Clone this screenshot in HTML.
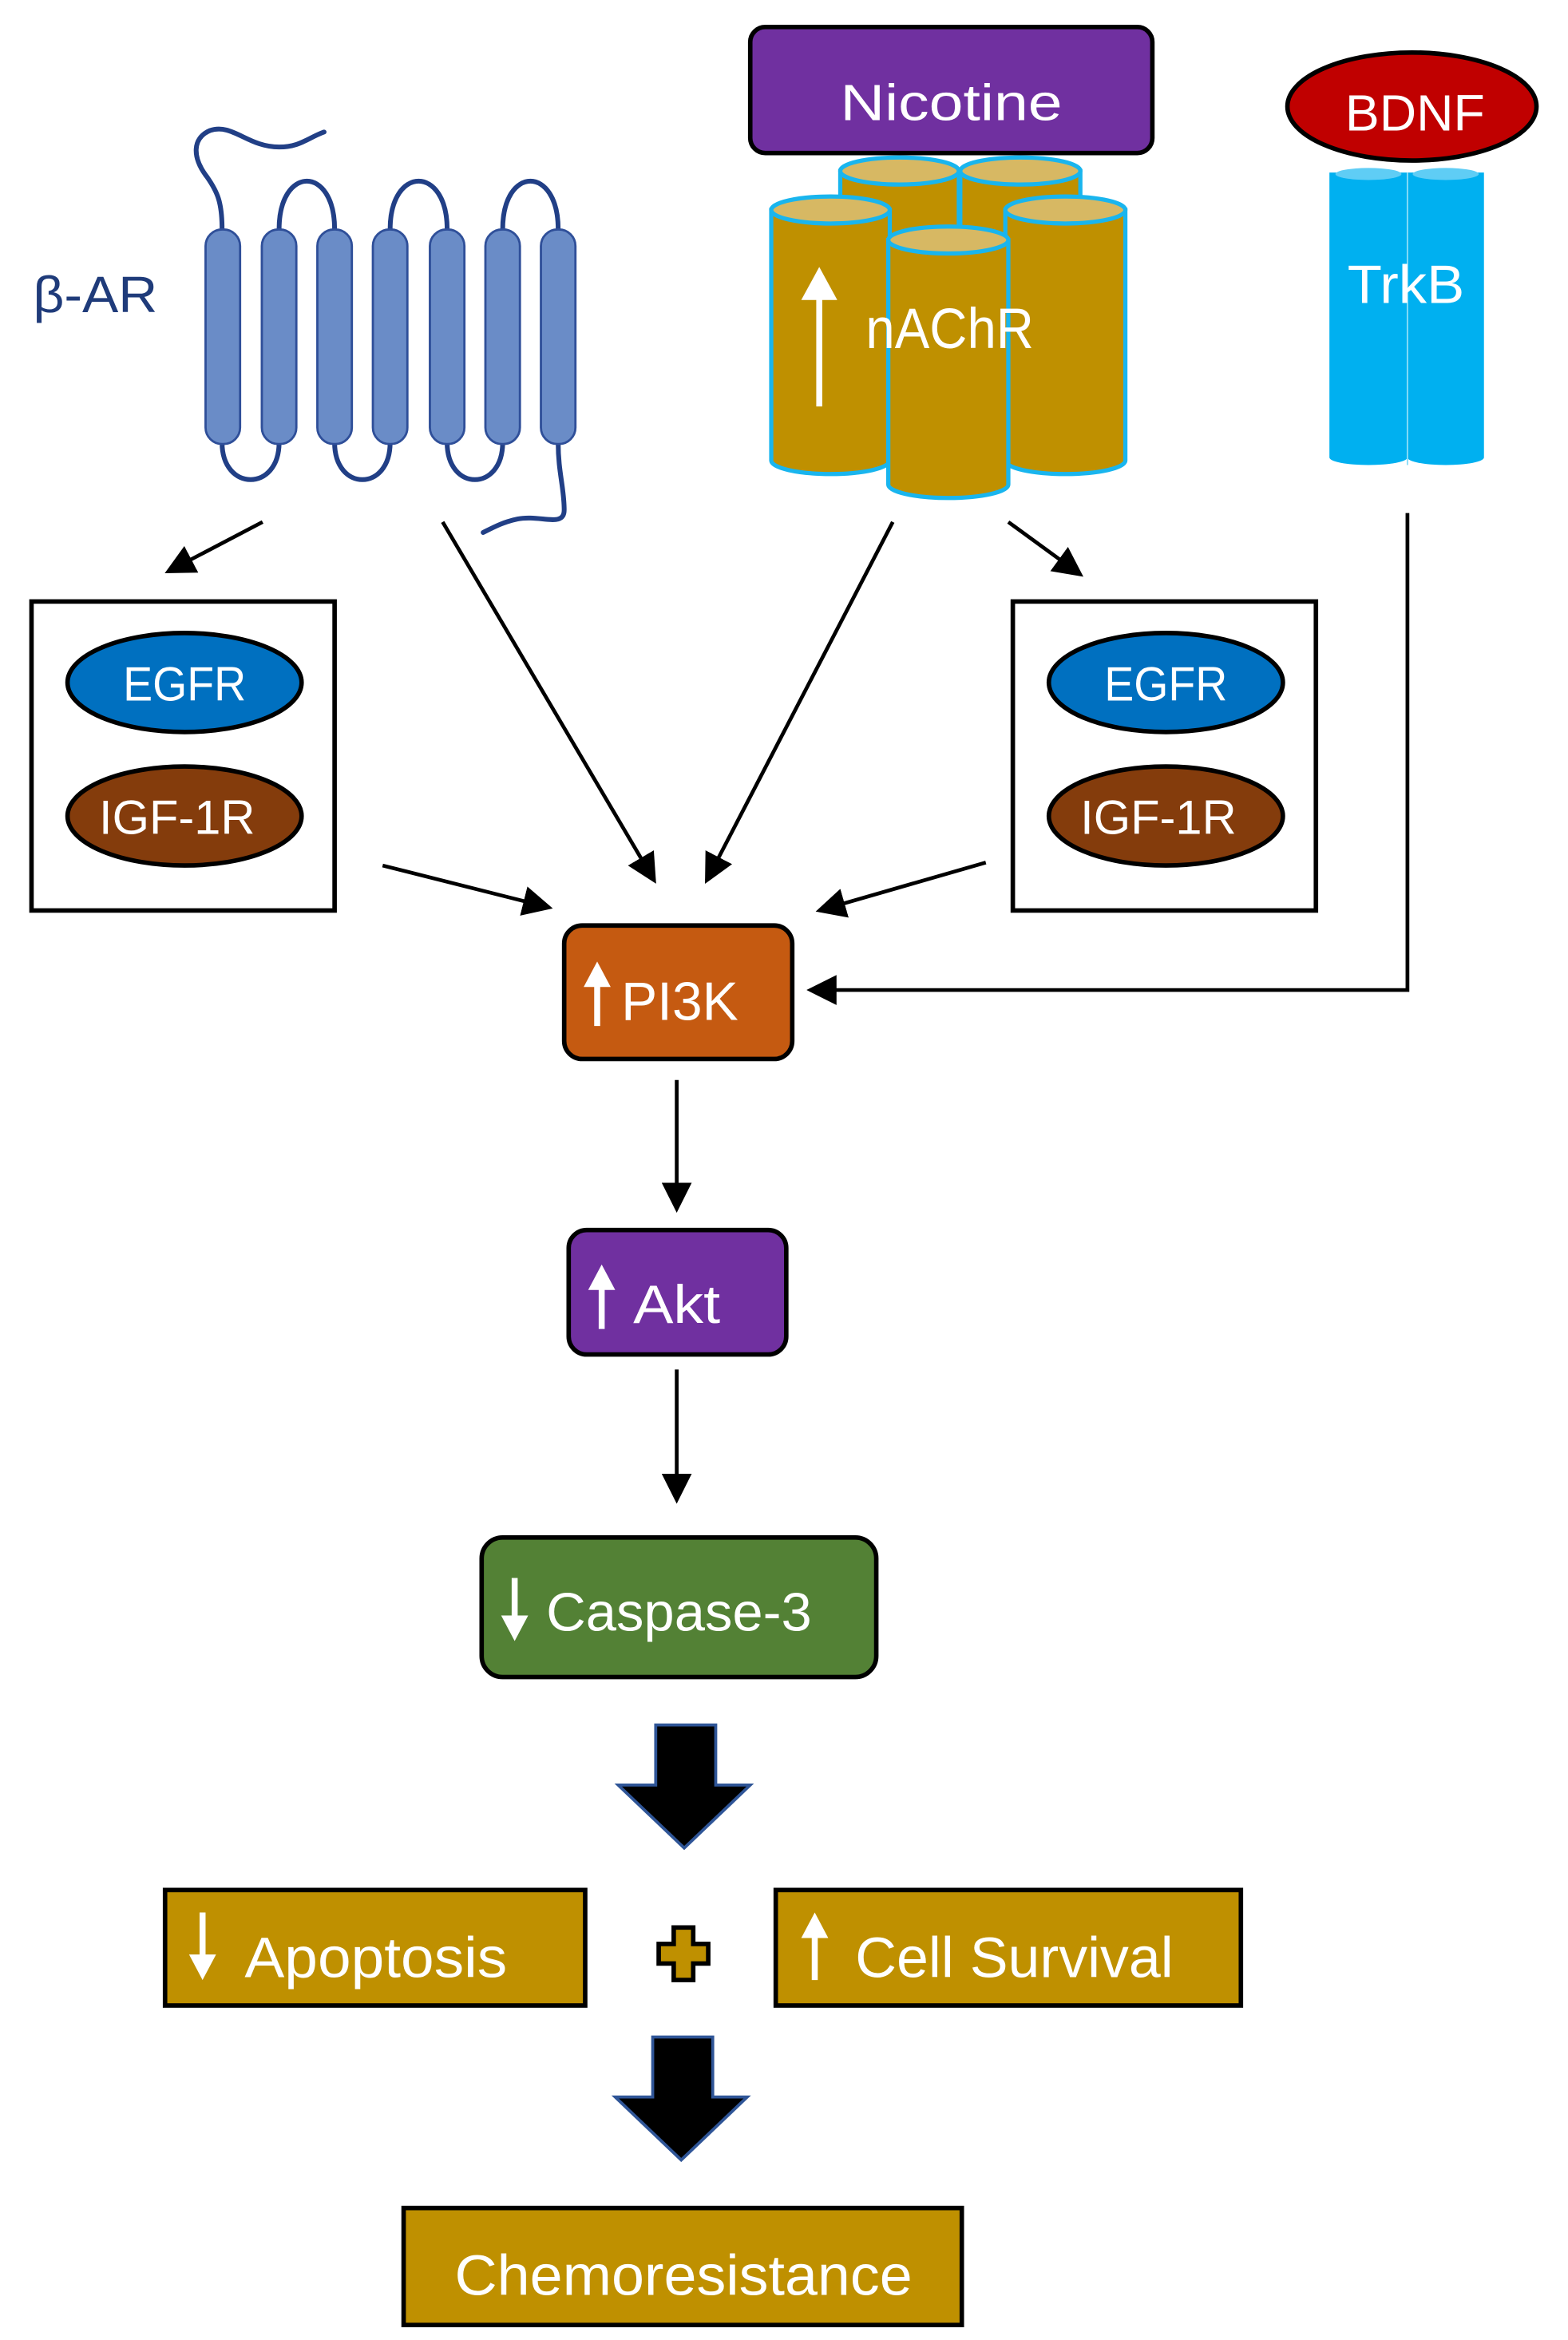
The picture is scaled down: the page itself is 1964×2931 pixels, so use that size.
<!DOCTYPE html>
<html><head><meta charset="utf-8"><style>
html,body{margin:0;padding:0;background:#fff;}
svg{display:block;}
text{font-family:"Liberation Sans",sans-serif;fill:#fff;}
</style></head><body>
<svg width="1964" height="2931" viewBox="0 0 1045 1560" preserveAspectRatio="none" xmlns="http://www.w3.org/2000/svg">
<defs>
<marker id="ah" markerWidth="8" markerHeight="8" refX="7" refY="4" orient="auto" markerUnits="strokeWidth">
<path d="M0,0 L8,4 L0,8 z" fill="#000"/>
</marker>
</defs>
<rect width="1045" height="1560" fill="#fff"/>

<!-- beta-AR -->
<text x="22" y="208" font-size="34" textLength="83" lengthAdjust="spacingAndGlyphs" style="fill:#1F3B7A">β-AR</text>
<g fill="none" stroke="#213F86" stroke-width="3.2" stroke-linecap="round">
<path d="M148,153 C148,135 145,128 138,118 C128,105 128,92 140,87 C155,82 165,98 186,98 C200,98 205,92 216,88"/>
<path d="M186,153 C186,110 223,110 223,153"/>
<path d="M260,153 C260,110 298,110 298,153"/>
<path d="M335,153 C335,110 372,110 372,153"/>
<path d="M148,295 C148,328 186,328 186,295"/>
<path d="M223,295 C223,328 260,328 260,295"/>
<path d="M298,295 C298,328 335,328 335,295"/>
<path d="M372,295 C372,315 376,325 376,340 C376,352 360,343 345,346 C335,348 328,352 322,355"/>
</g>
<g fill="#6A8CC7" stroke="#2F4F99" stroke-width="1.5">
<rect x="137" y="153" width="23" height="143" rx="11"/>
<rect x="174.5" y="153" width="23" height="143" rx="11"/>
<rect x="211.5" y="153" width="23" height="143" rx="11"/>
<rect x="248.5" y="153" width="23" height="143" rx="11"/>
<rect x="286.5" y="153" width="23" height="143" rx="11"/>
<rect x="323.5" y="153" width="23" height="143" rx="11"/>
<rect x="360.5" y="153" width="23" height="143" rx="11"/>
</g>

<!-- Nicotine -->
<rect x="500" y="18" width="268" height="84" rx="10" fill="#7030A0" stroke="#000" stroke-width="3"/>
<text x="634" y="80" font-size="34" text-anchor="middle" textLength="148" lengthAdjust="spacingAndGlyphs">Nicotine</text>

<!-- nAChR cylinders -->
<g stroke="#19B5EE" stroke-width="2.8">
<path d="M560,114 V280 A40,9 0 0 0 639,280 V114 Z" fill="#BF9000"/>
<ellipse cx="599.5" cy="114" rx="39.5" ry="9" fill="#D7B863"/>
<path d="M640,114 V280 A40,9 0 0 0 720,280 V114 Z" fill="#BF9000"/>
<ellipse cx="680" cy="114" rx="40" ry="9" fill="#D7B863"/>
<path d="M514,140 V307 A39.5,9 0 0 0 593,307 V140 Z" fill="#BF9000"/>
<ellipse cx="553.5" cy="140" rx="39.5" ry="9" fill="#D7B863"/>
<path d="M670,140 V307 A40,9 0 0 0 750,307 V140 Z" fill="#BF9000"/>
<ellipse cx="710" cy="140" rx="40" ry="9" fill="#D7B863"/>
<path d="M592,160 V323 A40,9 0 0 0 672,323 V160 Z" fill="#BF9000"/>
<ellipse cx="632" cy="160" rx="40" ry="9" fill="#D7B863"/>
</g>
<line x1="546" y1="271" x2="546" y2="196" stroke="#fff" stroke-width="4"/>
<path d="M534,200 L546,178 L558,200 Z" fill="#fff"/>
<text x="577" y="232" font-size="38" textLength="112" lengthAdjust="spacingAndGlyphs">nAChR</text>

<!-- BDNF / TrkB -->
<g fill="#00B0F0">
<path d="M886,115 V305 A26,5 0 0 0 938,305 V115 Z"/>
<path d="M938,115 V305 A25.5,5 0 0 0 989,305 V115 Z"/>
</g>
<ellipse cx="912" cy="116" rx="22" ry="4" fill="#5FCDF5"/>
<ellipse cx="963.5" cy="116" rx="22" ry="4" fill="#5FCDF5"/>
<line x1="938" y1="115" x2="938" y2="310" stroke="#8ADCF8" stroke-width="1"/>
<ellipse cx="941" cy="71" rx="83" ry="36" fill="#C00000" stroke="#000" stroke-width="3"/>
<text x="943" y="87" font-size="34" text-anchor="middle" textLength="93" lengthAdjust="spacingAndGlyphs">BDNF</text>
<text x="937" y="202" font-size="36" text-anchor="middle" textLength="78" lengthAdjust="spacingAndGlyphs">TrkB</text>

<!-- connectors -->
<g stroke="#000" stroke-width="2.5" fill="none" marker-end="url(#ah)">
<line x1="175" y1="348" x2="112" y2="381"/>
<line x1="295" y1="348" x2="436" y2="587"/>
<line x1="595" y1="348" x2="471" y2="587"/>
<line x1="672" y1="348" x2="720" y2="383"/>
<line x1="255" y1="577" x2="366" y2="605"/>
<line x1="657" y1="575" x2="546" y2="607"/>
<polyline points="938,342 938,660 540,660"/>
<line x1="451" y1="720" x2="451" y2="806"/>
<line x1="451" y1="913" x2="451" y2="1000"/>
</g>

<!-- left box -->
<rect x="21" y="401" width="202" height="206" fill="none" stroke="#000" stroke-width="3"/>
<ellipse cx="123" cy="455" rx="78" ry="33" fill="#0070C0" stroke="#000" stroke-width="3"/>
<text x="123" y="467" font-size="32" text-anchor="middle" textLength="82" lengthAdjust="spacingAndGlyphs">EGFR</text>
<ellipse cx="123" cy="544" rx="78" ry="33" fill="#843C0C" stroke="#000" stroke-width="3"/>
<text x="118" y="556" font-size="32" text-anchor="middle" textLength="104" lengthAdjust="spacingAndGlyphs">IGF-1R</text>

<!-- right box -->
<rect x="675" y="401" width="202" height="206" fill="none" stroke="#000" stroke-width="3"/>
<ellipse cx="777" cy="455" rx="78" ry="33" fill="#0070C0" stroke="#000" stroke-width="3"/>
<text x="777" y="467" font-size="32" text-anchor="middle" textLength="82" lengthAdjust="spacingAndGlyphs">EGFR</text>
<ellipse cx="777" cy="544" rx="78" ry="33" fill="#843C0C" stroke="#000" stroke-width="3"/>
<text x="772" y="556" font-size="32" text-anchor="middle" textLength="104" lengthAdjust="spacingAndGlyphs">IGF-1R</text>

<!-- PI3K -->
<rect x="376" y="617" width="152" height="89" rx="12" fill="#C55A11" stroke="#000" stroke-width="3"/>
<line x1="398" y1="684" x2="398" y2="655" stroke="#fff" stroke-width="4"/>
<path d="M389,658 L398,641 L407,658 Z" fill="#fff"/>
<text x="414" y="680" font-size="36" textLength="78" lengthAdjust="spacingAndGlyphs">PI3K</text>

<!-- Akt -->
<rect x="379" y="820" width="145" height="83" rx="12" fill="#7030A0" stroke="#000" stroke-width="3"/>
<line x1="401" y1="886" x2="401" y2="857" stroke="#fff" stroke-width="4"/>
<path d="M392,860 L401,843 L410,860 Z" fill="#fff"/>
<text x="422" y="882" font-size="36" textLength="58" lengthAdjust="spacingAndGlyphs">Akt</text>

<!-- Caspase-3 -->
<rect x="321" y="1025" width="263" height="93" rx="14" fill="#538135" stroke="#000" stroke-width="3"/>
<line x1="343" y1="1052" x2="343" y2="1080" stroke="#fff" stroke-width="4"/>
<path d="M334,1077 L343,1094 L352,1077 Z" fill="#fff"/>
<text x="364" y="1087" font-size="36" textLength="177" lengthAdjust="spacingAndGlyphs">Caspase-3</text>

<!-- block arrow 1 -->
<path d="M437,1150 H477 V1190 H500 L456,1232 L412,1190 H437 Z" fill="#000" stroke="#2F5597" stroke-width="2"/>

<!-- Apoptosis / Cell Survival -->
<rect x="110" y="1260" width="280" height="77" fill="#BF9000" stroke="#000" stroke-width="3"/>
<line x1="135" y1="1275" x2="135" y2="1306" stroke="#fff" stroke-width="4"/>
<path d="M126,1303 L135,1320 L144,1303 Z" fill="#fff"/>
<text x="163" y="1318" font-size="38" textLength="175" lengthAdjust="spacingAndGlyphs">Apoptosis</text>

<path d="M449,1285 H462 V1296 H472 V1309 H462 V1320 H449 V1309 H439 V1296 H449 Z" fill="#BF9000" stroke="#000" stroke-width="3"/>

<rect x="517" y="1260" width="310" height="77" fill="#BF9000" stroke="#000" stroke-width="3"/>
<line x1="543" y1="1320" x2="543" y2="1289" stroke="#fff" stroke-width="4"/>
<path d="M534,1292 L543,1275 L552,1292 Z" fill="#fff"/>
<text x="570" y="1318" font-size="38" textLength="212" lengthAdjust="spacingAndGlyphs">Cell Survival</text>

<!-- block arrow 2 -->
<path d="M435,1358 H475 V1398 H498 L454,1440 L410,1398 H435 Z" fill="#000" stroke="#2F5597" stroke-width="2"/>

<!-- Chemoresistance -->
<rect x="269" y="1472" width="372" height="78" fill="#BF9000" stroke="#000" stroke-width="3"/>
<text x="303" y="1530" font-size="38" textLength="305" lengthAdjust="spacingAndGlyphs">Chemoresistance</text>
</svg>
</body></html>
